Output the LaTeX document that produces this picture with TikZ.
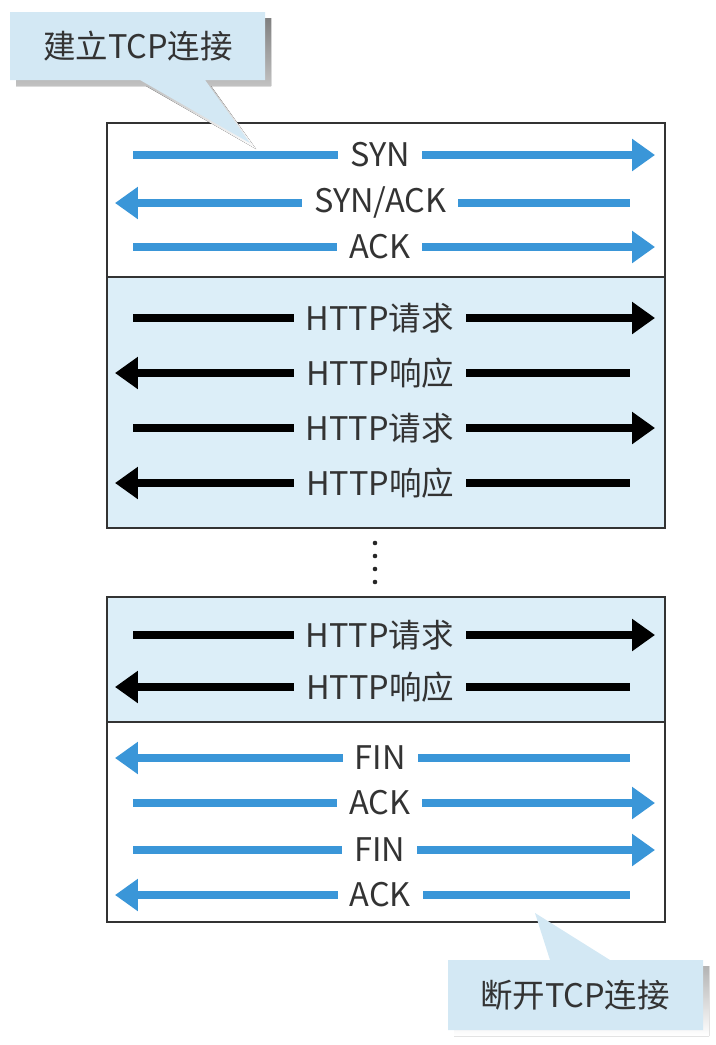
\documentclass[tikz,border=0pt]{standalone}
\usepackage{fontspec}
\setmainfont{Noto Sans CJK SC}
\usetikzlibrary{arrows.meta,positioning}
\definecolor{msgblue}{HTML}{3A96D8}
\definecolor{pale}{HTML}{DCEEF8}
\definecolor{tipfill}{HTML}{D3E8F4}
\definecolor{shade}{HTML}{8E8E8E}
\definecolor{ink}{HTML}{333333}
\tikzset{
	msgR/.style={line width=4.5pt,-{Triangle[length=0.46cm,width=0.62cm]}},
	msgL/.style={line width=4.5pt,{Triangle[length=0.46cm,width=0.62cm]}-},
	lbl/.style={fill=#1,text=ink,inner xsep=0.24cm,inner ysep=1pt,font=\fontsize{18.5}{21}\selectfont},
	lblR/.style={lbl=#1,pos=0.473},
	lblL/.style={lbl=#1,pos=0.515},
	sect/.style={draw=black!80,line width=1.3pt},
	callout/.style={fill=tipfill},
}

\begin{document}
\begin{tikzpicture}[x=0.02cm,y=-0.02cm]
\useasboundingbox (0,0) rectangle (716,1045);
% connection part
\fill[white] (107,123) rectangle (665,277);
\fill[pale] (107,277) rectangle (665,528);
\draw[sect] (107,123) rectangle (665,528) (107,277) -- (665,277);
\draw[msgR,msgblue] (133,155) coordinate (syn1) -- node[lblR=white] (syn) {SYN} (655,155) coordinate (syn2);
\draw[msgL,msgblue] (115,203) coordinate (sa1) -- node[lblL=white] (synack) {SYN/ACK} (630,203) coordinate (sa2);
\draw[msgR,msgblue] (133,247) coordinate (ack1) -- node[lblR=white] (ack) {ACK} (655,247) coordinate (ack2);
\draw[msgR,black] (133,318) coordinate (q1a) -- node[lblR=pale] (req1) {HTTP请求} (655,318) coordinate (q1b);
\draw[msgL,black] (115,373) coordinate (r1a) -- node[lblL=pale] (res1) {HTTP响应} (630,373) coordinate (r1b);
\draw[msgR,black] (133,428) coordinate (q2a) -- node[lblR=pale] (req2) {HTTP请求} (655,428) coordinate (q2b);
\draw[msgL,black] (115,483) coordinate (r2a) -- node[lblL=pale] (res2) {HTTP响应} (630,483) coordinate (r2b);
% dots
\foreach \y in {543,556,569,582}
	\fill[black!85] (375,\y) circle (2.3);
% closing part
\fill[pale] (107,597) rectangle (665,722);
\fill[white] (107,722) rectangle (665,922);
\draw[sect] (107,597) rectangle (665,922) (107,722) -- (665,722);
\draw[msgR,black] (133,635) coordinate (q3a) -- node[lblR=pale] (req3) {HTTP请求} (655,635) coordinate (q3b);
\draw[msgL,black] (115,687) coordinate (r3a) -- node[lblL=pale] (res3) {HTTP响应} (630,687) coordinate (r3b);
\draw[msgL,msgblue] (115,758) coordinate (f1a) -- node[lblL=white] (fin1) {FIN} (630,758) coordinate (f1b);
\draw[msgR,msgblue] (133,803) coordinate (a1a) -- node[lblR=white] (ack3) {ACK} (655,803) coordinate (a1b);
\draw[msgR,msgblue] (133,850) coordinate (f2a) -- node[lblR=white] (fin2) {FIN} (655,850) coordinate (f2b);
\draw[msgL,msgblue] (115,895) coordinate (a2a) -- node[lblL=white] (ack4) {ACK} (630,895) coordinate (a2b);
% callouts
\fill[shade] (16,18) -- (271,18) -- (271,86) -- (211,86) -- (256,149) -- (146,86) -- (16,86) -- cycle;
\fill[callout] (10,12) -- (265,12) -- (265,80) -- (205,80) -- (250,143) -- (140,80) -- (10,80) -- cycle;
\node[text=ink,font=\fontsize{18.5}{21}\selectfont] (open) at (138,46) {建立TCP连接};
\fill[shade] (454,966) -- (556,966) -- (541,919) -- (616,966) -- (709,966) -- (709,1036) -- (454,1036) -- cycle;
\fill[callout] (448,960) -- (550,960) -- (535,913) -- (610,960) -- (703,960) -- (703,1030) -- (448,1030) -- cycle;
\node[text=ink,font=\fontsize{18.5}{21}\selectfont] (close) at (575,995) {断开TCP连接};
\end{tikzpicture}
\end{document}
